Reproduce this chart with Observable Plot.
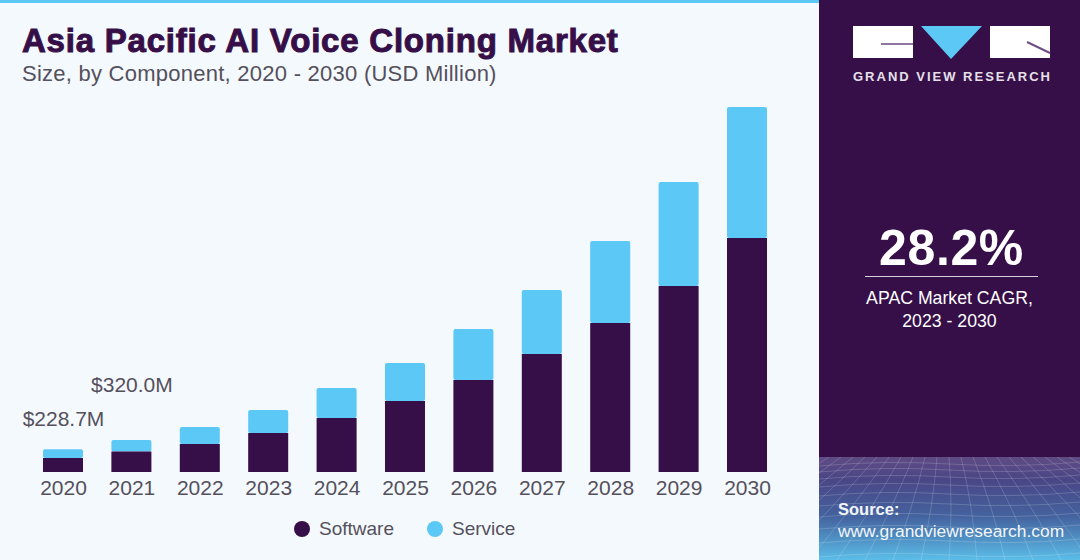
<!DOCTYPE html>
<html>
<head>
<meta charset="utf-8">
<script src="https://cdn.jsdelivr.net/npm/d3@7"></script>
<script src="https://cdn.jsdelivr.net/npm/@observablehq/plot@0.6"></script>
<style>
  html,body{margin:0;padding:0;width:1080px;height:560px;overflow:hidden;background:#f4f9fd;}
  body{position:relative;font-family:"Liberation Sans",Arial,sans-serif;}
  .abs{position:absolute;white-space:nowrap;}
  #stripe{left:0;top:0;width:819px;height:3px;background:#5cc8f6;}
  #title{left:22px;top:22px;font-size:33px;line-height:38px;font-weight:700;color:#360f48;-webkit-text-stroke:1px #360f48;letter-spacing:.78px;margin:0;}
  #subtitle{left:22px;top:62px;font-size:22px;line-height:24px;color:#54505c;margin:0;letter-spacing:.25px;}
  #chart{left:0;top:0;}
  #legend{left:0;top:516px;height:26px;font-size:19px;color:#54505c;}
  .key{position:absolute;top:0;line-height:26px;}
  .dot{position:absolute;top:5px;width:16px;height:16px;border-radius:50%;}
  #panel{left:819px;top:0;width:261px;height:560px;background:#360f48;overflow:hidden;}
  #mesh{position:absolute;left:0;top:457px;width:261px;height:103px;background:linear-gradient(180deg,#5f4b84 0%,#4a4686 22%,#44639f 58%,#5bbde8 100%);}
  #mesh svg{position:absolute;left:0;top:0;}
  .pt{color:#fff;left:0;width:261px;text-align:center;}
</style>
</head>
<body>
<div class="abs" id="stripe"></div>
<h1 class="abs" id="title"></h1>
<p class="abs" id="subtitle"></p>
<div class="abs" id="chart"></div>
<div class="abs" id="legend"></div>
<div class="abs" id="panel">
  <svg width="261" height="90" style="position:absolute;left:0;top:0">
    <rect x="34" y="26" width="60" height="32" fill="#fff"/>
    <path d="M62 44H94" stroke="#8d75a0" stroke-width="2" fill="none"/>
    <path d="M102 26H163L132 59Z" fill="#5cc8f6"/>
    <rect x="171" y="26" width="60" height="32" fill="#fff"/>
    <path d="M208 42L231 53" stroke="#6d4f85" stroke-width="2" fill="none"/>
    <text x="132.5" y="81" text-anchor="middle" fill="#e6e0ea" font-family="Liberation Sans" font-weight="700" font-size="13" textLength="197">GRAND VIEW RESEARCH</text>
  </svg>
  <div class="abs pt" id="cagr" style="top:220px;left:2px;font-size:50px;line-height:56px;font-weight:700;letter-spacing:.6px;"></div>
  <div class="abs" style="left:46px;top:276px;width:173px;height:1px;background:#d9d2de;"></div>
  <div class="abs pt" id="cagrA" style="top:286px;font-size:17.7px;line-height:24px;"></div>
  <div class="abs pt" id="cagrB" style="top:309px;font-size:17.7px;line-height:24px;"></div>
  <div id="mesh"></div>
  <div class="abs" id="src1" style="left:19px;top:499px;font-size:16.5px;line-height:20px;font-weight:700;color:#f2f6fa;"></div>
  <div class="abs" id="src2" style="left:19px;top:521px;font-size:17.4px;line-height:20px;color:#f2f6fa;"></div>
</div>
<script>
const years = [2020,2021,2022,2023,2024,2025,2026,2027,2028,2029,2030];
const software = [140,205,280,390,540,710,920,1180,1490,1860,2340];
const service = [88.7,115,170,230,300,380,510,640,820,1040,1310];
const components = ["Software","Service"];
const componentColors = ["#360f48","#5cc8f6"];
const valueLabels = [
  {year:2020,total:228.7,text:"$228.7M",lift:-30},
  {year:2021,total:320.0,text:"$320.0M",lift:-55}
];
const titleText = "Asia Pacific AI Voice Cloning Market";
const subtitleText = "Size, by Component, 2020 - 2030 (USD Million)";

document.getElementById("title").textContent = titleText;
document.getElementById("subtitle").textContent = subtitleText;
document.getElementById("cagr").textContent = "28.2%";
document.getElementById("cagrA").textContent = "APAC Market CAGR,";
document.getElementById("cagrB").textContent = "2023 - 2030";
document.getElementById("src1").textContent = "Source:";
document.getElementById("src2").textContent = "www.grandviewresearch.com";

const rows = years.flatMap((year,i)=>[
  {year,component:"Software",value:software[i]},
  {year,component:"Service",value:service[i]}
]);

const plot = Plot.plot({
  width:818, height:510,
  marginLeft:14.6, marginRight:22.6, marginTop:107, marginBottom:38,
  style:{background:"transparent",fontFamily:"Liberation Sans",overflow:"visible"},
  x:{type:"band",domain:years,padding:0.415,round:false,label:null},
  y:{domain:[0,3650],axis:null,label:null},
  color:{domain:components,range:componentColors},
  marks:[
    Plot.barY(rows.filter(d=>d.component==="Service"),{x:"year",y1:d=>software[years.indexOf(d.year)],y2:d=>software[years.indexOf(d.year)]+d.value,fill:"component",rx:2}),
    Plot.barY(rows.filter(d=>d.component==="Software"),{x:"year",y:"value",fill:"component"}),
    ...valueLabels.map(l=>Plot.text([l],{x:"year",y:"total",text:"text",dy:l.lift,fill:"#54505c",fontSize:21,textAnchor:"middle"})),
    Plot.axisX({tickSize:0,tickPadding:7.5,fontSize:21,color:"#54505c",tickFormat:d=>String(d),label:null,anchor:"bottom"})
  ]
});
document.getElementById("chart").appendChild(plot);

const legend = document.getElementById("legend");
[[294,319],[427,452]].forEach(([dx,tx],i)=>{
  const d=document.createElement("span");d.className="dot";d.style.left=dx+"px";d.style.background=componentColors[i];legend.appendChild(d);
  const t=document.createElement("span");t.className="key";t.style.left=tx+"px";t.textContent=components[i];legend.appendChild(t);
});

// decorative wire mesh behind the source note
const ns="http://www.w3.org/2000/svg";
const mesh=document.createElementNS(ns,"svg");mesh.setAttribute("width",261);mesh.setAttribute("height",103);
const segs=[];
[6,12,19,27,36,46,57,69,83,97].forEach((y,k)=>segs.push(`M0 ${y+3} Q65 ${y-3} 130 ${y+1} T261 ${y-1}`));
for(let i=-10;i<=20;i++){const x0=130+i*12,x1=130+i*28;segs.push(`M${x0} 0 Q${(x0+x1)/2+4} 50 ${x1} 103`);}
const p=document.createElementNS(ns,"path");p.setAttribute("d",segs.join(" "));p.setAttribute("fill","none");p.setAttribute("stroke","#fff");p.setAttribute("stroke-opacity",".17");p.setAttribute("stroke-width","1");
mesh.appendChild(p);document.getElementById("mesh").appendChild(mesh);
</script>
</body>
</html>
